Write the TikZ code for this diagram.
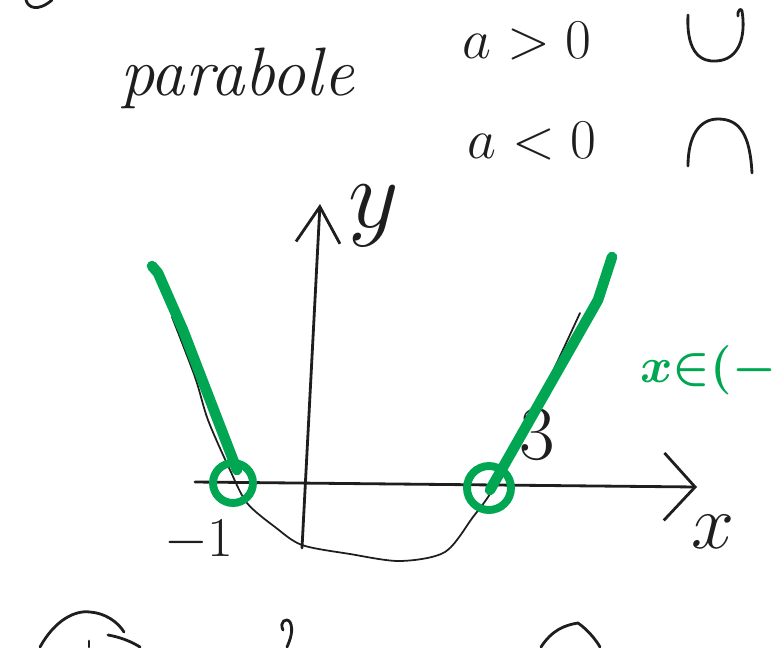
\RequirePackage{fix-cm}
\documentclass[tikz,border=0pt]{standalone}
\usetikzlibrary{arrows.meta}
\definecolor{penblack}{RGB}{30,30,30}
\definecolor{pengreen}{RGB}{0,166,81}
\begin{document}
\begin{tikzpicture}[
  x=0.02cm, y=-0.02cm,
  ink/.style={draw=penblack, line width=1.6pt, line cap=round, line join=round},
  thinink/.style={draw=penblack, line width=1pt, line cap=round, line join=round},
  marker/.style={draw=pengreen, line width=6pt, line cap=round, line join=round},
  ring/.style={draw=pengreen, line width=4.5pt, circle, inner sep=0pt},
  note/.style={text=penblack, inner sep=0pt},
  greennote/.style={text=pengreen, inner sep=0pt},
  xtip/.style={-{Straight Barb[length=0.62cm,width=1.35cm]}},
  ytip/.style={-{Straight Barb[length=0.72cm,width=0.88cm]}}
]
\useasboundingbox (0,0) rectangle (778,647);
\node[note, anchor=base, font=\itshape\fontsize{39}{44}\selectfont] (title) at (237,95) {parabole};
\node[note, anchor=base, font=\fontsize{32}{38}\selectfont] (apos) at (527,58) {$a>0$};
\node[note, anchor=base, font=\fontsize{32}{38}\selectfont] (aneg) at (532,158) {$a<0$};
\node[note, font=\fontsize{44}{50}\selectfont] (xlabel) at (713,532) {$x$};
\node[note, font=\fontsize{56}{60}\selectfont] (ylabel) at (374,216) {$y$};
\node[note, font=\fontsize{32}{38}\selectfont] (mone) at (199,541) {$-1$};
\node[note, font=\fontsize{44}{50}\selectfont] (three) at (537,435) {$3$};
\node[greennote, anchor=west, font=\boldmath\fontsize{28}{34}\selectfont] (range) at (640,370) {$x{\in}(-$};
\coordinate (xstart) at (195,482);
\coordinate (xend) at (697,487);
\coordinate (ystart) at (302,548);
\coordinate (yend) at (320,204);
\draw[ink, xtip] (xstart) -- (xend);
\draw[ink, ytip] (ystart) -- (yend);
\draw[thinink] plot[smooth] coordinates {(172,317) (195,377) (208,420) (230,470) (247,503) (275,527) (302,545) (350,554) (400,561) (445,552) (473,517) (490,494) (510,458) (545,388) (580,313)};
\draw[marker] (152,266) -- (158,273) -- (183,330) -- (237,470);
\draw[marker] (612,257) -- (598,300) -- (490,490);
\node[ring, minimum size=0.8cm] (leftroot) at (233,483) {};
\node[ring, minimum size=0.88cm] (rightroot) at (489,488) {};
\draw[ink] (688,15) .. controls (686,55) and (703,62) .. (716,61) .. controls (740,60) and (746,35) .. (742,11) .. controls (741,7) and (737,11) .. (738,16);
\draw[ink] (688,166) .. controls (688,135) and (700,119) .. (718,119) .. controls (740,119) and (750,135) .. (752,173);
\draw[ink] (26,0) .. controls (28,8) and (38,12) .. (52,0);
\draw[ink] (40,647) .. controls (55,620) and (75,610) .. (90,612) .. controls (105,613) and (118,622) .. (124,632);
\draw[ink] (108,635) .. controls (125,638) and (135,644) .. (140,647);
\draw[ink] (89,641) -- (89,647);
\draw[ink] (283,630) .. controls (279,622) and (286,617) .. (290,622) .. controls (294,630) and (290,640) .. (287,647);
\draw[ink] (541,647) .. controls (552,630) and (565,625) .. (578,623) .. controls (588,630) and (596,640) .. (600,647);
\end{tikzpicture}
\end{document}
